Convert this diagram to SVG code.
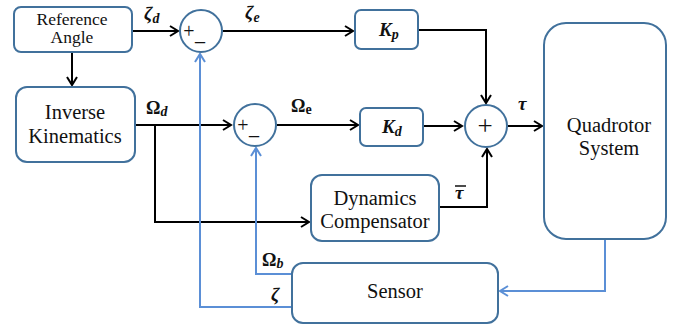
<svg xmlns="http://www.w3.org/2000/svg" width="673" height="329" viewBox="0 0 673 329">
<style>
.box{fill:#fff;stroke:#41719C;stroke-width:2}
.t{font-family:"Liberation Serif",serif;fill:#111;text-anchor:middle}
.m{font-family:"Liberation Serif",serif;font-weight:bold;font-style:italic;fill:#111}
.u{font-style:normal}
.k{fill:none;stroke:#000;stroke-width:2}
.b{fill:none;stroke:#5B8FD6;stroke-width:2}
</style>
<defs>
<marker id="ak" markerUnits="userSpaceOnUse" markerWidth="14" markerHeight="14" viewBox="-10 -7 12 14" refX="0" refY="0" orient="auto">
<path d="M-8,-5 L0,0 L-8,5" fill="none" stroke="#000" stroke-width="2"/>
</marker>
<marker id="ab" markerUnits="userSpaceOnUse" markerWidth="14" markerHeight="14" viewBox="-10 -7 12 14" refX="0" refY="0" orient="auto">
<path d="M-8,-5 L0,0 L-8,5" fill="none" stroke="#5B8FD6" stroke-width="2"/>
</marker>
</defs>
<rect width="673" height="329" fill="#fff"/>
<g id="connectors">
<path class="k" d="M132,31 H178" marker-end="url(#ak)"/>
<path class="k" d="M72,52 V85" marker-end="url(#ak)"/>
<path class="k" d="M223,31 H353" marker-end="url(#ak)"/>
<path class="k" d="M418,30 H486 V103" marker-end="url(#ak)"/>
<path class="k" d="M135,125 H231" marker-end="url(#ak)"/>
<path class="k" d="M155,125 V222 H309" marker-end="url(#ak)"/>
<path class="k" d="M277,125 H358" marker-end="url(#ak)"/>
<path class="k" d="M423,126 H462" marker-end="url(#ak)"/>
<path class="k" d="M508,126 H542" marker-end="url(#ak)"/>
<path class="k" d="M439,207 H487 V149" marker-end="url(#ak)"/>
<path class="b" d="M605,239 V291 H500" marker-end="url(#ab)"/>
<path class="b" d="M291,274 H256 V148" marker-end="url(#ab)"/>
<path class="b" d="M291,307 H200 V54" marker-end="url(#ab)"/>
</g>
<g id="reference-angle">
<rect class="box" x="14" y="7" width="118" height="45" rx="7"/>
<text class="t" x="72" y="25" font-size="17.5">Reference</text>
<text class="t" x="72" y="43" font-size="17.5">Angle</text>
</g>
<g id="inverse-kinematics">
<rect class="box" x="16" y="87" width="119" height="75" rx="11"/>
<text class="t" x="75" y="119" font-size="20.5">Inverse</text>
<text class="t" x="75" y="143" font-size="20.5">Kinematics</text>
</g>
<g id="sum1">
<circle class="box" cx="201" cy="31" r="21"/>
<text class="t" x="189" y="38" font-size="20">+</text>
<text class="t" x="200" y="40" font-size="20">_</text>
</g>
<g id="sum2">
<circle class="box" cx="255" cy="125" r="21"/>
<text class="t" x="243" y="132" font-size="20">+</text>
<text class="t" x="254" y="134" font-size="20">_</text>
</g>
<g id="sum3">
<circle class="box" cx="486" cy="126" r="21"/>
<text class="t" x="485" y="135" font-size="27">+</text>
</g>
<g id="kp">
<rect class="box" x="355" y="10" width="63" height="39" rx="6"/>
<text class="m" x="379" y="36" font-size="19">K<tspan font-size="14" dy="3">p</tspan></text>
</g>
<g id="kd">
<rect class="box" x="360" y="108" width="63" height="38" rx="6"/>
<text class="m" x="382" y="133" font-size="19">K<tspan font-size="14" dy="3">d</tspan></text>
</g>
<g id="quadrotor">
<rect class="box" x="544" y="23" width="122" height="216" rx="22"/>
<text class="t" x="609" y="132" font-size="20.5">Quadrotor</text>
<text class="t" x="609" y="155" font-size="20.5">System</text>
</g>
<g id="dynamics-compensator">
<rect class="box" x="311" y="175" width="128" height="66" rx="11"/>
<text class="t" x="375" y="205" font-size="20.5">Dynamics</text>
<text class="t" x="375" y="228" font-size="20.5">Compensator</text>
</g>
<g id="sensor">
<rect class="box" x="292" y="263" width="206" height="60" rx="11"/>
<text class="t" x="395" y="298" font-size="20.5">Sensor</text>
</g>
<g id="labels">
<text class="m" x="144" y="20" font-size="19">ζ<tspan font-size="14" dy="3">d</tspan></text>
<text class="m" x="245" y="19" font-size="19">ζ<tspan font-size="14" dy="3">e</tspan></text>
<text class="m" x="146" y="114" font-size="18"><tspan class="u">Ω</tspan><tspan font-size="14" dy="2">d</tspan></text>
<text class="m" x="291" y="112" font-size="18"><tspan class="u">Ω</tspan><tspan class="u" font-size="14" dy="2">e</tspan></text>
<text class="m" x="518" y="110" font-size="19">τ</text>
<text class="m" x="455" y="199" font-size="19">τ</text>
<path d="M455,186 H466" stroke="#111" stroke-width="1.5"/>
<text class="m" x="262" y="266" font-size="18"><tspan class="u">Ω</tspan><tspan font-size="14" dy="2">b</tspan></text>
<text class="m" x="271" y="301" font-size="19">ζ</text>
</g>
</svg>
